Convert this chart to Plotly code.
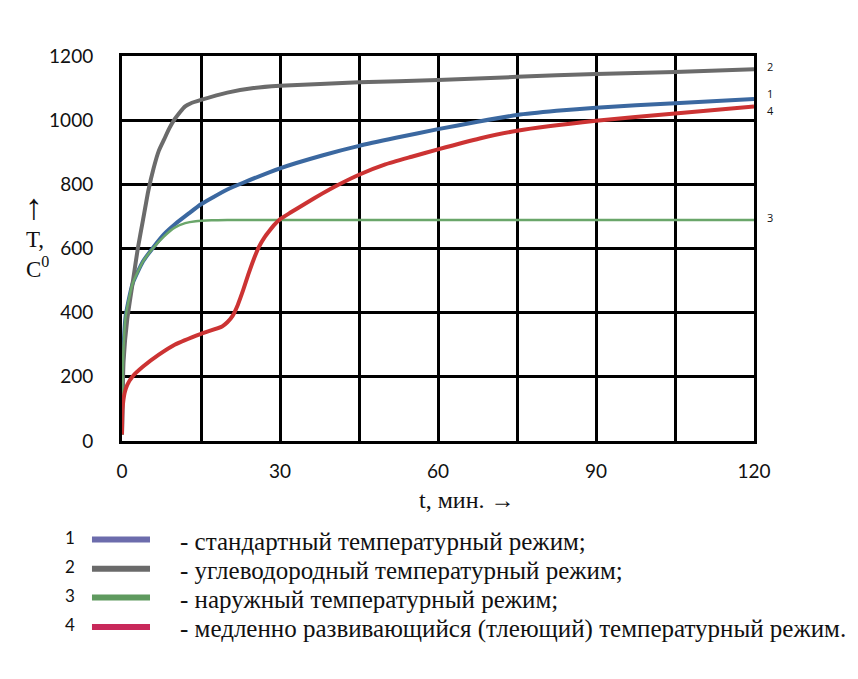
import plotly.graph_objects as go

# ---- data (minutes, °C) ----
t_std = [0, 0.2, 0.7, 2, 4, 6, 8, 10, 12.5, 15, 20, 23, 30, 38, 45, 52, 60, 67.5, 75, 82.5, 90, 105, 120]
T_std = [20, 250, 390, 490, 560, 605, 645, 675, 707, 738, 784, 805, 850, 890, 920, 945, 972, 995, 1016, 1029, 1039, 1053, 1066]

t_hc = [0, 0.3, 1, 2, 3, 4, 5, 6, 7, 8, 9, 10, 11, 12, 13, 15, 20, 25, 30, 45, 60, 75, 90, 105, 120]
T_hc = [20, 250, 380, 490, 600, 690, 780, 850, 905, 940, 975, 1003, 1025, 1043, 1052, 1063, 1086, 1100, 1107, 1118, 1125, 1135, 1144, 1150, 1159]

t_ext = [0, 0.2, 0.7, 2, 4, 6, 8, 10, 12, 14, 17, 20, 120]
T_ext = [20, 250, 390, 490, 560, 603, 638, 665, 679, 685, 688, 689, 689]

t_slow = [0, 0.1, 0.5, 1, 2, 4, 7, 10, 15, 19, 20, 21, 22, 23, 24, 25, 26, 27, 28, 29, 30, 32,
          35, 38, 41, 45, 50, 55, 60, 67.9, 75, 90, 105, 120]
T_slow = [20, 100, 150, 175, 201, 232, 269, 300, 334, 357, 370, 390, 425, 470, 520, 566, 605, 633, 655, 675, 691, 712,
          742, 771, 798, 830, 862, 886, 909, 943, 967, 998, 1021, 1043]

x_ticks = [0, 30, 60, 90, 120]
y_ticks = [0, 200, 400, 600, 800, 1000, 1200]

curve_ids = ["1", "2", "3", "4"]
curve_end_labels_y = [1082, 1167, 698, 1030]
legend_texts = [
    "- стандартный температурный режим;",
    "- углеводородный температурный режим;",
    "- наружный температурный режим;",
    "- медленно развивающийся (тлеющий) температурный режим.",
]

curve_colors = ["#3b68a0", "#6b6b6b", "#6aa66a", "#cc3333"]
curve_widths = [4, 4, 2.5, 4]
legend_colors = ["#6c6cac", "#6a6a6a", "#5f9a5f", "#c8285a"]

series = [(t_std, T_std), (t_hc, T_hc), (t_ext, T_ext), (t_slow, T_slow)]

fig = go.Figure()
for (tx, ty), c, w in zip(series, curve_colors, curve_widths):
    fig.add_trace(go.Scatter(x=tx, y=ty, mode="lines",
                             line=dict(color=c, width=w, shape="spline", smoothing=0.5),
                             hoverinfo="skip", showlegend=False))

tick_font = dict(family="Lato, sans-serif", size=19, color="#111")

fig.update_xaxes(range=[0, 120], tickmode="array", tickvals=x_ticks,
                 showgrid=True, gridcolor="black", gridwidth=3,
                 minor=dict(dtick=15, tick0=0, showgrid=True, gridcolor="black", gridwidth=3),
                 zeroline=False, showline=True, linecolor="black", linewidth=3, mirror=True,
                 ticks="", tickfont=tick_font, ticklabelstandoff=11)
fig.update_yaxes(range=[0, 1200], tickmode="array", tickvals=y_ticks,
                 showgrid=True, gridcolor="black", gridwidth=3,
                 zeroline=False, showline=True, linecolor="black", linewidth=3, mirror=True,
                 ticks="", tickfont=tick_font, ticklabelstandoff=22)

annotations = []
# curve number labels at the right
for cid, yv in zip(curve_ids, curve_end_labels_y):
    annotations.append(dict(x=1.026, xref="paper", y=yv, yref="y", text=cid, showarrow=False,
                            font=dict(family="Open Sans, sans-serif", size=11, color="#111"),
                            xanchor="center", yanchor="middle"))

serif = "Liberation Serif, Times New Roman, serif"
# axis titles
annotations.append(dict(x=0.546, y=-0.153, xref="paper", yref="paper", text="t, мин. →",
                        showarrow=False, font=dict(family=serif, size=24, color="#111"),
                        xanchor="center", yanchor="middle"))
annotations.append(dict(x=-0.140, y=0.608, xref="paper", yref="paper", text="↑",
                        showarrow=False, font=dict(family=serif, size=36, color="#111"),
                        xanchor="center", yanchor="middle"))
annotations.append(dict(x=-0.133, y=0.484, xref="paper", yref="paper",
                        text="T,<br>C<sup>0</sup>", align="left",
                        showarrow=False, font=dict(family=serif, size=23, color="#111"),
                        xanchor="center", yanchor="middle"))

# custom legend
leg_y = [-0.2558, -0.3317, -0.4065, -0.4831]
shapes = []
for cid, txt, col, yy in zip(curve_ids, legend_texts, legend_colors, leg_y):
    annotations.append(dict(x=-0.082, y=yy + 0.006, xref="paper", yref="paper", text=cid,
                            showarrow=False, font=dict(family="Lato, sans-serif", size=17, color="#111"),
                            xanchor="center", yanchor="middle"))
    annotations.append(dict(x=0.0886, y=yy - 0.004, xref="paper", yref="paper", text=txt,
                            showarrow=False, font=dict(family=serif, size=25, color="#111"),
                            xanchor="left", yanchor="middle"))
    shapes.append(dict(type="line", xref="paper", yref="paper", x0=-0.0475, x1=0.0443,
                       y0=yy, y1=yy, line=dict(color=col, width=6)))

fig.update_layout(width=850, height=671, paper_bgcolor="white", plot_bgcolor="white",
                  margin=dict(l=114, r=104, t=48, b=238), showlegend=False,
                  annotations=annotations, shapes=shapes)

fig.write_html("out.html")
